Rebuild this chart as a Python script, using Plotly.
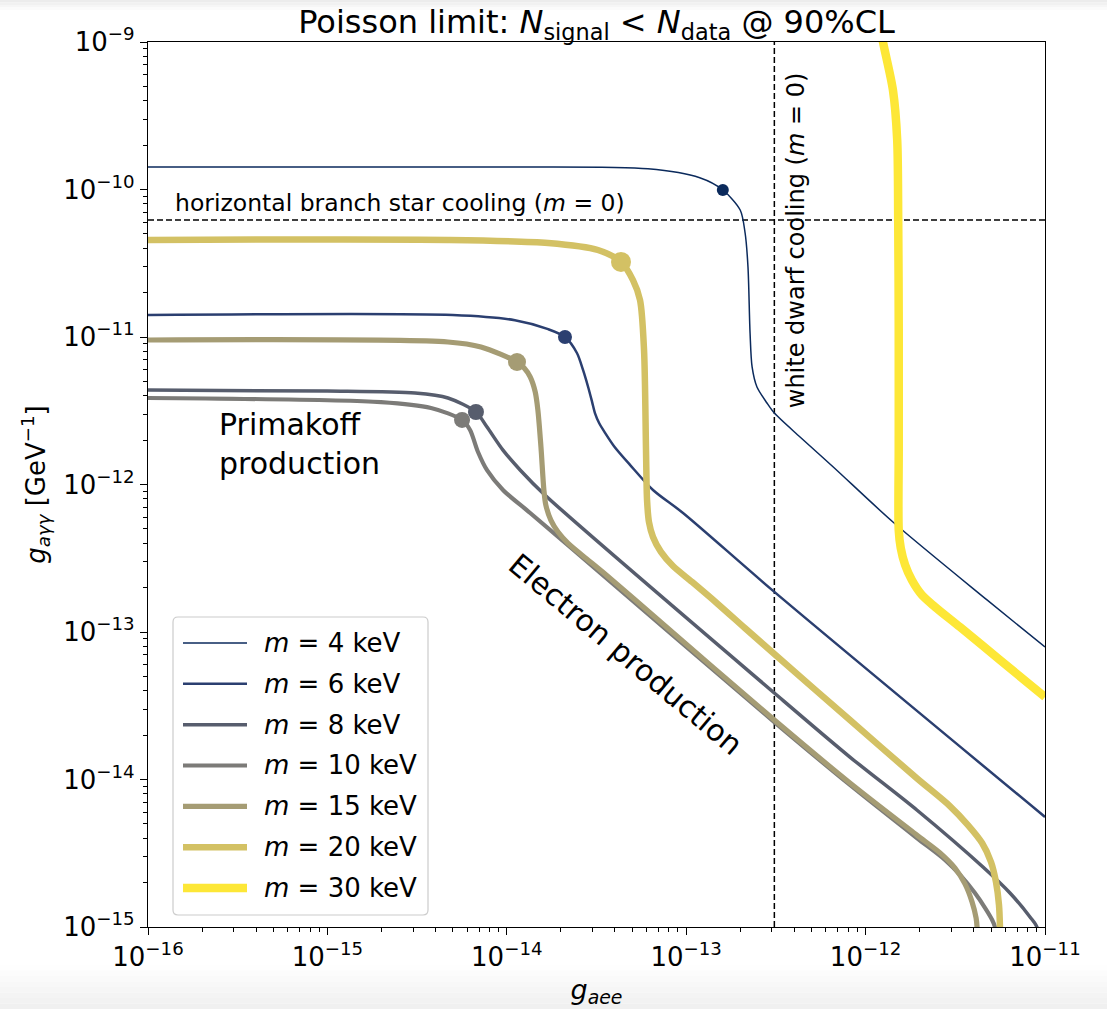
import plotly.graph_objects as go

# ---------------- data ----------------
masses = [4, 6, 8, 10, 15, 20, 30]

m4_x = [1e-16, 1e-15, 1e-14, 6.12e-14, 1.19e-13, 1.60e-13, 2.00e-13, 2.13e-13, 2.21e-13, 2.27e-13,
        2.33e-13, 2.48e-13, 2.82e-13, 3.10e-13, 4.31e-13, 6.58e-13, 1.42e-12, 4.75e-12, 1e-11]
m4_y = [1.42e-10, 1.42e-10, 1.42e-10, 1.38e-10, 1.20e-10, 9.92e-11, 7.26e-11, 5.07e-11, 2.99e-11, 1.06e-11,
        6.27e-12, 4.58e-12, 3.57e-12, 3.05e-12, 2.10e-12, 1.32e-12, 5.57e-13, 1.65e-13, 7.91e-14]

m6_x = [1e-16, 5e-15, 1.11e-14, 1.70e-14, 2.11e-14, 2.46e-14, 2.66e-14, 2.84e-14, 2.99e-14, 3.10e-14,
        3.27e-14, 3.53e-14, 3.96e-14, 4.86e-14, 6.53e-14, 9.60e-14, 3.10e-13, 1e-11]
m6_y = [1.41e-11, 1.41e-11, 1.30e-11, 1.13e-11, 1.00e-11, 7.79e-12, 5.98e-12, 4.58e-12, 3.62e-12, 3.05e-12,
        2.61e-12, 2.24e-12, 1.82e-12, 1.36e-12, 9.18e-13, 6.41e-13, 1.87e-13, 5.57e-15]

m8_x = [1e-16, 1e-15, 3.08e-15, 4.70e-15, 6.73e-15, 7.76e-15, 9.52e-15, 1.19e-14, 1.63e-14,
        3.10e-13, 8.18e-13, 1.93e-12, 4.51e-12, 6.38e-12, 8.25e-12, 9.02e-12, 9.3e-12]
m8_y = [4.37e-12, 4.30e-12, 4.17e-12, 3.86e-12, 3.10e-12, 2.45e-12, 1.71e-12, 1.25e-12, 8.49e-13,
        3.86e-14, 1.42e-14, 6.21e-15, 2.55e-15, 1.70e-15, 1.17e-15, 1.0e-15, 7e-16]

m10_x = [1e-16, 1.99e-15, 3.78e-15, 5.63e-15, 6.24e-15, 6.91e-15, 7.76e-15, 9.52e-15, 1.35e-14, 2.25e-14,
         3.10e-13, 8.18e-13, 1.93e-12, 2.77e-12, 3.45e-12, 4.07e-12, 4.63e-12, 5.07e-12, 5.26e-12, 5.35e-12]
m10_y = [3.86e-12, 3.62e-12, 3.30e-12, 2.74e-12, 2.34e-12, 1.66e-12, 1.25e-12, 9.18e-13, 6.41e-13, 3.77e-13,
         2.45e-14, 9.18e-15, 4.01e-15, 2.85e-15, 2.18e-15, 1.70e-15, 1.35e-15, 1.12e-15, 1.0e-15, 8e-16]

m15_x = [1e-16, 4.70e-15, 7.18e-15, 1.14e-14, 1.25e-14, 1.35e-14, 1.44e-14, 1.49e-14, 1.55e-14, 1.61e-14,
         1.65e-14, 1.76e-14, 1.93e-14, 2.19e-14, 2.66e-14, 3.53e-14, 6.28e-14, 3.10e-13, 8.18e-13, 1.93e-12,
         2.60e-12, 3.15e-12, 3.58e-12, 3.92e-12, 4.13e-12, 4.18e-12, 4.20e-12]
m15_y = [9.54e-12, 9.25e-12, 8.55e-12, 6.77e-12, 6.16e-12, 5.36e-12, 4.24e-12, 3.20e-12, 1.80e-12, 9.18e-13,
         7.26e-13, 5.74e-13, 4.76e-13, 4.01e-13, 3.28e-13, 2.47e-13, 1.35e-13, 2.53e-14, 9.47e-15, 4.20e-15,
         3.18e-15, 2.51e-15, 1.96e-15, 1.48e-15, 1.15e-15, 1.0e-15, 8e-16]

m20_x = [1e-16, 4.70e-15, 1.70e-14, 3.22e-14, 4.33e-14, 5.05e-14, 5.53e-14, 5.82e-14, 5.97e-14, 6.05e-14,
         6.20e-14, 6.53e-14, 7.23e-14, 8.44e-14, 1.08e-13, 1.50e-13, 2.13e-13, 3.10e-13, 8.18e-13, 1.93e-12,
         2.95e-12, 3.72e-12, 4.46e-12, 5.00e-12, 5.33e-12, 5.54e-12, 5.61e-12, 5.62e-12]
m20_y = [4.55e-11, 4.55e-11, 4.34e-11, 3.89e-11, 3.23e-11, 2.43e-11, 1.78e-11, 8.16e-12, 1.71e-12, 7.85e-13,
         5.57e-13, 4.41e-13, 3.49e-13, 2.80e-13, 2.18e-13, 1.55e-13, 1.06e-13, 7.09e-14, 2.53e-14, 1.02e-14,
         6.61e-15, 4.91e-15, 3.71e-15, 2.76e-15, 2.02e-15, 1.41e-15, 1.0e-15, 8e-16]

m30_x = [1.22e-12, 1.25e-12, 1.42e-12, 1.50e-12, 1.52e-12, 1.53e-12, 1.53e-12, 1.53e-12, 1.57e-12, 1.66e-12,
         1.81e-12, 2.06e-12, 2.44e-12, 3.36e-12, 5.61e-12, 1e-11]
m30_y = [1.2e-9, 1e-9, 4.73e-10, 2.17e-10, 6.21e-11, 1.12e-11, 1.71e-12, 4.91e-13, 3.71e-13, 2.85e-13,
         2.25e-13, 1.78e-13, 1.48e-13, 1.08e-13, 6.46e-14, 3.62e-14]

# transition points (dots) for m = 4, 6, 8, 10, 15, 20 keV
dot_x = [1.60e-13, 2.11e-14, 6.73e-15, 5.63e-15, 1.14e-14, 4.33e-14]
dot_y = [9.92e-11, 1.00e-11, 3.10e-12, 2.74e-12, 6.77e-12, 3.23e-11]

# astrophysical bounds (m = 0)
hb_limit = 6.2e-11   # g_agg, horizontal branch
wd_limit = 3.1e-13   # g_aee, white dwarf

x_range = [1e-16, 1e-11]
y_range = [1e-15, 1e-9]
x_tick_exp = [-16, -15, -14, -13, -12, -11]
y_tick_exp = [-15, -14, -13, -12, -11, -10, -9]

# ---------------- styling ----------------
colors = ["#0b2a5c", "#2b3f70", "#575d6d", "#7c7b78", "#a59c74", "#d3c164", "#fde737"]
widths = [1.5, 2.5, 3.5, 4.2, 5.2, 6.5, 8.5]
dot_sizes = [12, 14, 16, 16, 18, 20]
FONT = "DejaVu Sans"

curves_x = [m4_x, m6_x, m8_x, m10_x, m15_x, m20_x, m30_x]
curves_y = [m4_y, m6_y, m8_y, m10_y, m15_y, m20_y, m30_y]

fig = go.Figure()

# dashed bounds
fig.add_trace(go.Scatter(x=x_range, y=[hb_limit, hb_limit], mode="lines",
                         line=dict(color="black", width=1.5, dash="6px,3px"),
                         showlegend=False, hoverinfo="skip"))
fig.add_trace(go.Scatter(x=[wd_limit, wd_limit], y=y_range, mode="lines",
                         line=dict(color="black", width=1.5, dash="6px,3px"),
                         showlegend=False, hoverinfo="skip"))

for i, m in enumerate(masses):
    fig.add_trace(go.Scatter(
        x=curves_x[i], y=curves_y[i], mode="lines",
        line=dict(color=colors[i], width=widths[i], shape="spline", smoothing=0.8),
        name=f"m = {m} keV", showlegend=False,
    ))
    if i < len(dot_x):
        fig.add_trace(go.Scatter(
            x=[dot_x[i]], y=[dot_y[i]], mode="markers",
            marker=dict(color=colors[i], size=dot_sizes[i], line=dict(width=0)),
            showlegend=False, hoverinfo="skip",
        ))

minor_x = [k * 10.0 ** e for e in range(-16, -11) for k in range(2, 10)]
minor_y = [k * 10.0 ** e for e in range(-15, -9) for k in range(2, 10)]

axis_common = dict(
    type="log", showgrid=False, zeroline=False, automargin=False,
    showline=True, linecolor="black", linewidth=1.3, mirror=True,
    ticks="outside", ticklen=7, tickwidth=1.3, tickcolor="black",
    tickfont=dict(family=FONT, size=26, color="black"),
)

fig.update_xaxes(
    **axis_common,
    range=[x_tick_exp[0], x_tick_exp[-1]],
    tickvals=[10.0 ** e for e in x_tick_exp],
    ticktext=[f"10<sup>\u2212{-e}</sup>" for e in x_tick_exp],
    minor=dict(tickvals=minor_x, ticks="outside", ticklen=4, tickwidth=1, tickcolor="black"),
    title=dict(text="<i>g</i><sub><i>aee</i></sub>", font=dict(family=FONT, size=27, color="black"),
               standoff=8),
)
fig.update_yaxes(
    **axis_common,
    range=[y_tick_exp[0], y_tick_exp[-1]],
    tickvals=[10.0 ** e for e in y_tick_exp],
    ticktext=[f"10<sup>\u2212{-e}</sup>" for e in y_tick_exp],
    minor=dict(tickvals=minor_y, ticks="outside", ticklen=4, tickwidth=1, tickcolor="black"),
    title=dict(text="<i>g</i><sub><i>a\u03b3\u03b3</i></sub> [GeV<sup>\u22121</sup>]",
               font=dict(family=FONT, size=26, color="black"), standoff=10),
)

annotations = [
    dict(text="horizontal branch star cooling (<i>m</i> = 0)", x=0.028, y=0.818,
         xanchor="left", yanchor="middle", font=dict(size=23.5)),
    dict(text="white dwarf cooling (<i>m</i> = 0)", x=0.7224, y=0.776, textangle=-90,
         xanchor="center", yanchor="middle", font=dict(size=24)),
    dict(text="Primakoff<br>production", x=0.077, y=0.546, align="left",
         xanchor="left", yanchor="middle", font=dict(size=30)),
    dict(text="Electron production", x=0.533, y=0.308, textangle=40,
         xanchor="center", yanchor="middle", font=dict(size=30)),
]

# ---- legend drawn as a framed box (matplotlib style, long line samples) ----
PLOT_L, PLOT_W, PLOT_B, PLOT_H = 148, 897, 927, 885
def px2paper(px, py):
    return (px - PLOT_L) / PLOT_W, (PLOT_B - py) / PLOT_H

shapes = []

# faint grey shading at the top and bottom edges of the page (as in the reference screenshot)
for j in range(8):
    _, ya = px2paper(0, 965 + j * 5.5)
    _, yb = px2paper(0, 965 + (j + 1) * 5.5)
    g = int(254 - j * 2)
    shapes.append(dict(type="rect", xref="paper", yref="paper", x0=-PLOT_L / PLOT_W,
                       x1=(1107 - PLOT_L) / PLOT_W, y0=yb, y1=ya, line=dict(width=0),
                       fillcolor=f"rgb({g},{g},{g})", layer="below"))
for j in range(4):
    _, ya = px2paper(0, j * 2.5)
    _, yb = px2paper(0, (j + 1) * 2.5)
    g = int(236 + j * 5)
    shapes.append(dict(type="rect", xref="paper", yref="paper", x0=-PLOT_L / PLOT_W,
                       x1=(1107 - PLOT_L) / PLOT_W, y0=yb, y1=ya, line=dict(width=0),
                       fillcolor=f"rgb({g},{g},{g})", layer="below"))

bx0, by0 = px2paper(173, 915)
bx1, by1 = px2paper(428, 617)
rx, ry = 5 / PLOT_W, 5 / PLOT_H
box_path = (f"M{bx0+rx},{by0} L{bx1-rx},{by0} Q{bx1},{by0} {bx1},{by0+ry} "
            f"L{bx1},{by1-ry} Q{bx1},{by1} {bx1-rx},{by1} L{bx0+rx},{by1} "
            f"Q{bx0},{by1} {bx0},{by1-ry} L{bx0},{by0+ry} Q{bx0},{by0} {bx0+rx},{by0} Z")
shapes.append(dict(type="path", path=box_path, xref="paper", yref="paper",
                   fillcolor="rgba(255,255,255,0.85)", line=dict(color="#cccccc", width=1.2),
                   layer="above"))
for i, m in enumerate(masses):
    row_y = 643 + 40.83 * i
    lx0, ly = px2paper(183, row_y)
    lx1, _ = px2paper(247, row_y)
    shapes.append(dict(type="line", xref="paper", yref="paper", x0=lx0, x1=lx1, y0=ly, y1=ly,
                       line=dict(color=colors[i], width=widths[i]), layer="above"))
    tx, _ = px2paper(262, row_y)
    annotations.append(dict(text=f"<i>m</i> = {m} keV", x=tx, y=ly, xanchor="left",
                            yanchor="middle", font=dict(size=26)))

for a in annotations:
    a.update(xref="paper", yref="paper", showarrow=False)
    a["font"].update(family=FONT, color="black")

fig.update_layout(
    width=1107, height=1009, autosize=False,
    margin=dict(l=148, r=62, t=42, b=82),
    paper_bgcolor="white", plot_bgcolor="white",
    title=dict(text="Poisson limit: <i>N</i><sub>signal</sub> < <i>N</i><sub>data</sub> @ 90%CL",
               x=0.5, xref="paper", xanchor="center", y=0.978, yanchor="middle",
               font=dict(family=FONT, size=32, color="black")),
    showlegend=False,
    annotations=annotations,
    shapes=shapes,
)

fig.write_html("out.html")
